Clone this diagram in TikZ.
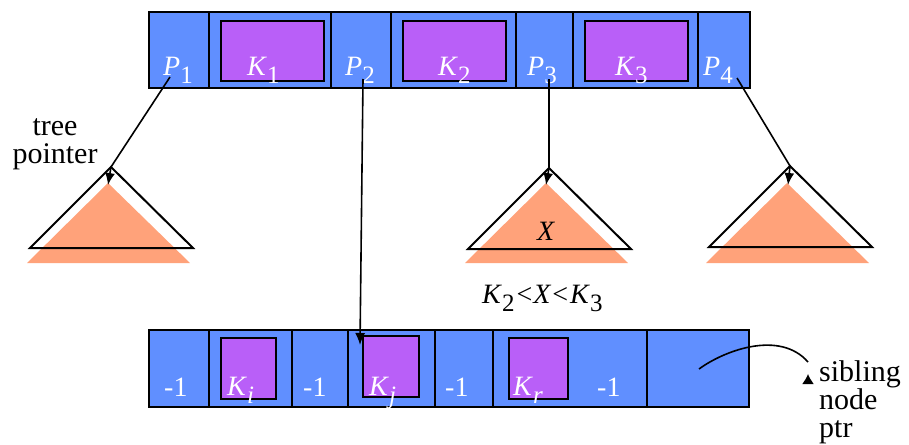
\documentclass[tikz,border=0pt]{standalone}
\usepackage{fontspec}
\setmainfont{Liberation Serif}
\usetikzlibrary{arrows.meta}
\definecolor{cellblue}{RGB}{96,143,255}
\definecolor{keypurple}{RGB}{185,95,248}
\definecolor{treeorange}{RGB}{255,162,122}
\newcommand{\lab}[2]{\textit{#1}\raisebox{-8pt}{\fontsize{25}{25}\selectfont #2}}
\tikzset{
  cell/.style = {draw=black, fill=cellblue, line width=1.2pt, minimum height=76, inner sep=0},
  keybox/.style = {draw=black, fill=keypurple, line width=2pt, inner sep=0},
  lab/.style = {anchor=base west, inner sep=0, text=white, font=\fontsize{28}{28}\selectfont},
  note/.style = {inner sep=0, font=\fontsize{30}{28}\selectfont},
  ptr/.style = {draw=black, line width=1.6pt, -{Latex[length=12pt,width=10pt]}},
}
\begin{document}
\begin{tikzpicture}[x=1pt, y=-1pt]
\useasboundingbox (0,0) rectangle (909,444);
\node [cell, minimum width=60, at = {(179,50)}] (p1) {};
\node [cell, minimum width=122, at = {(270,50)}] (k1) {};
\node [cell, minimum width=60, at = {(361,50)}] (p2) {};
\node [cell, minimum width=125, at = {(453.5,50)}] (k2) {};
\node [cell, minimum width=57, at = {(544.5,50)}] (p3) {};
\node [cell, minimum width=125, at = {(635.5,50)}] (k3) {};
\node [cell, minimum width=52, at = {(724,50)}] (p4) {};
\node [keybox, minimum width=103, minimum height=60, at = {(272.5,51)}] (k1box) {};
\node [keybox, minimum width=103, minimum height=60, at = {(454.5,51)}] (k2box) {};
\node [keybox, minimum width=103, minimum height=60, at = {(636.5,51)}] (k3box) {};
\node [lab, at = {(163,75)}] (p1lab) {\lab{P}{1}};
\node [lab, at = {(247,75)}] (k1lab) {\lab{K}{1}};
\node [lab, at = {(345,75)}] (p2lab) {\lab{P}{2}};
\node [lab, at = {(438,75)}] (k2lab) {\lab{K}{2}};
\node [lab, at = {(527,75)}] (p3lab) {\lab{P}{3}};
\node [lab, at = {(615,75)}] (k3lab) {\lab{K}{3}};
\node [lab, at = {(703,75)}] (p4lab) {\lab{P}{4}};
\node [cell, minimum width=60, minimum height=77, at = {(179,368.5)}] (m1) {};
\node [cell, minimum width=83, minimum height=77, at = {(250.5,368.5)}] (ki) {};
\node [cell, minimum width=56, minimum height=77, at = {(320,368.5)}] (m2) {};
\node [cell, minimum width=87, minimum height=77, at = {(391.5,368.5)}] (kj) {};
\node [cell, minimum width=58, minimum height=77, at = {(464,368.5)}] (m3) {};
\node [cell, minimum width=154, minimum height=77, at = {(570,368.5)}] (kr) {};
\node [cell, minimum width=102, minimum height=77, at = {(698,368.5)}] (sib) {};
\node [keybox, minimum width=55, minimum height=61, at = {(248.5,368.5)}] (kibox) {};
\node [keybox, minimum width=56, minimum height=61, at = {(391,366.5)}] (kjbox) {};
\node [keybox, minimum width=59, minimum height=61, at = {(538.5,368.5)}] (krbox) {};
\node [lab, at = {(164,396)}] (m1lab) {-1};
\node [lab, at = {(227,395)}] (kilab) {\lab{K}{\textit{i}}};
\node [lab, at = {(303,396)}] (m2lab) {-1};
\node [lab, at = {(369,395)}] (kjlab) {\lab{K}{\textit{j}}};
\node [lab, at = {(445,396)}] (m3lab) {-1};
\node [lab, at = {(513,395)}] (krlab) {\lab{K}{\textit{r}}};
\node [lab, at = {(597,396)}] (m4lab) {-1};
\coordinate (t1) at (111,167);
\coordinate (t1o) at (108,185);
\coordinate (t2) at (549,168);
\coordinate (t2o) at (546,185);
\coordinate (t3) at (790,166);
\coordinate (t3o) at (788,185);
\fill [treeorange] (108,183) -- ++(-81,80) -- ++(163,0) -- cycle;
\fill [treeorange] (546,183) -- ++(-81,80) -- ++(163,0) -- cycle;
\fill [treeorange] (787,183) -- ++(-81,80) -- ++(163,0) -- cycle;
\draw [color=black, line width=2pt, line join=miter] (t1) -- ++(-81,81) -- ++(163,0) -- cycle;
\draw [color=black, line width=2pt, line join=miter] (t2) -- ++(-81,81) -- ++(163,0) -- cycle;
\draw [color=black, line width=2pt, line join=miter] (t3) -- ++(-81,81) -- ++(163,0) -- cycle;
\node [lab, text=black, at = {(537,240)}] (xlab) {\textit{X}};
\node [lab, text=black, at = {(482,303)}] (range) {\lab{K}{2}\kern2pt<\kern1pt\textit{X}\kern1pt<\kern2pt\lab{K}{3}};
\node [note, align=center, anchor=base, at = {(55,163)}] (treenote) {tree\\pointer};
\node [note, align=left, anchor=base west, at = {(819,437)}] (sibnote) {sibling\\node\\ptr};
\coordinate (p1ptr) at (170,77);
\coordinate (p2ptr) at (363,79);
\coordinate (p3ptr) at (549,79);
\coordinate (p4ptr) at (737,78);
\coordinate (kjtip) at (360,345);
\coordinate (sibptr) at (699,369);
\coordinate (sibend) at (808,362);
\coordinate (sibtip) at (808,374);
\draw [ptr] (p1ptr) -- (t1) -- (t1o);
\draw [ptr] (p2ptr) -- (kjtip);
\draw [ptr] (p3ptr) -- (t2) -- (t2o);
\draw [ptr] (p4ptr) -- (t3) -- (t3o);
\draw [color=black, line width=1.6pt] (sibptr) .. controls (725,350) and (780,330) .. (sibend);
\draw [ptr, -{Latex[length=10pt,width=12pt]}] ([yshift=-10pt]sibtip) -- (sibtip);
\end{tikzpicture}
\end{document}
